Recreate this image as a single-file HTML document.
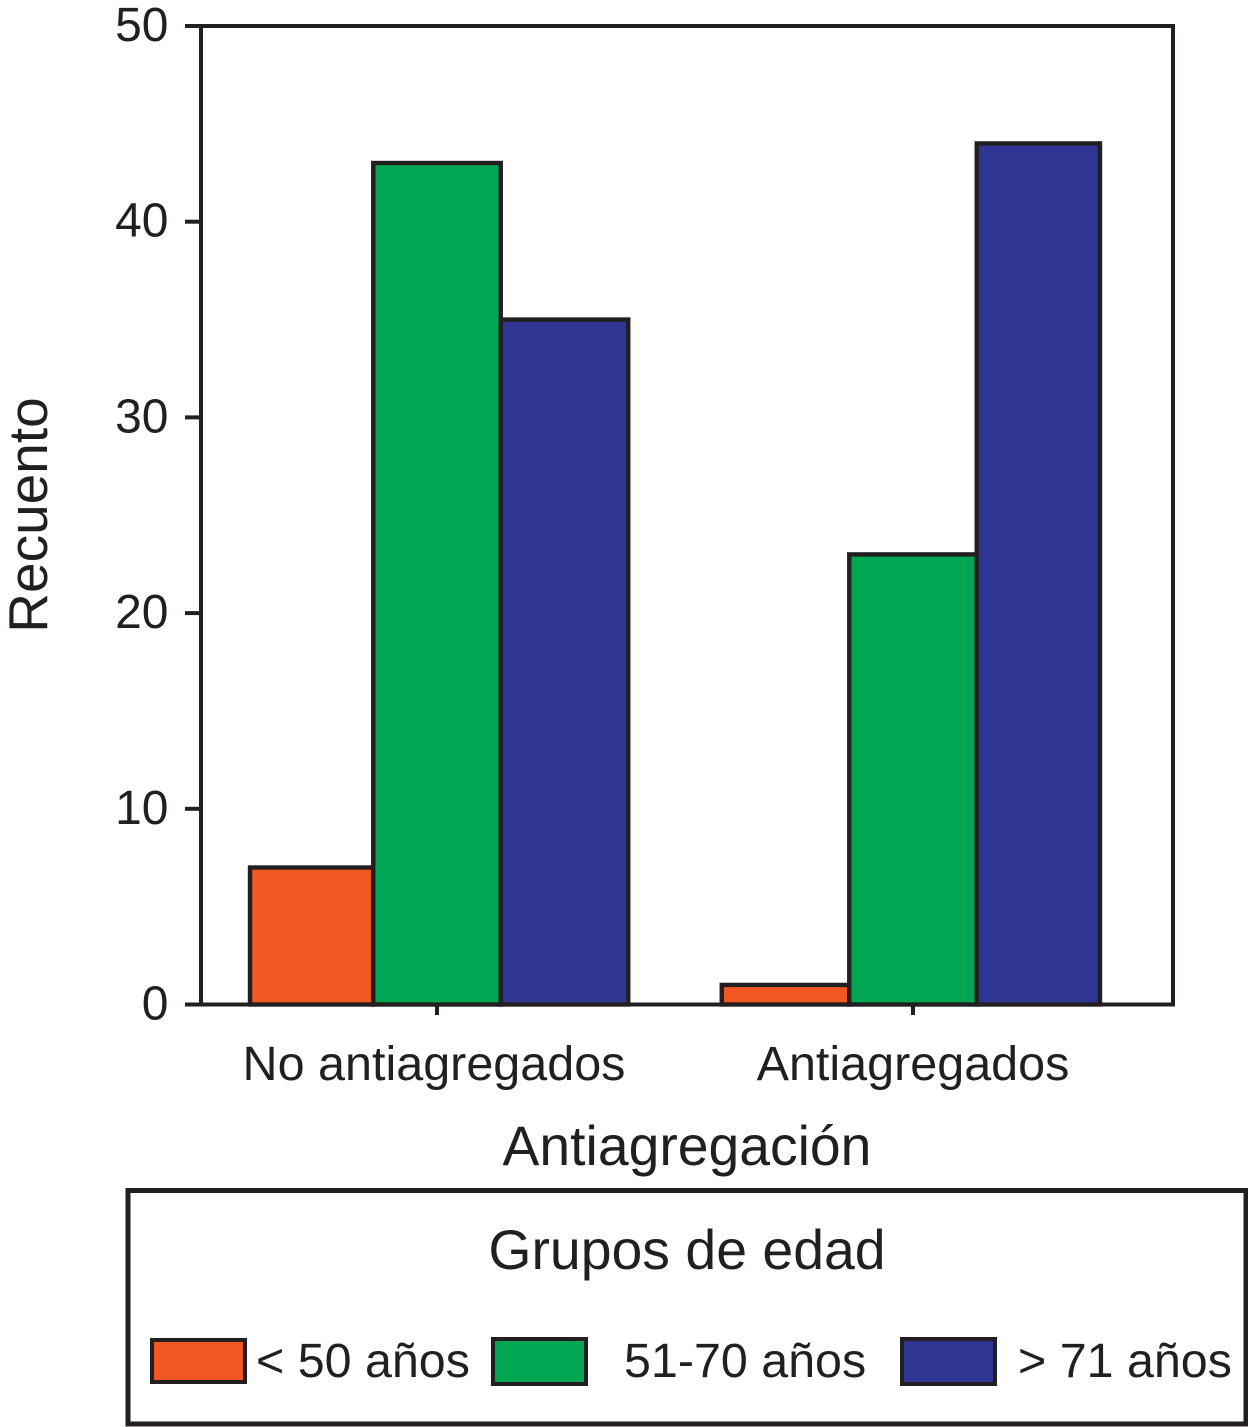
<!DOCTYPE html>
<html lang="es">
<head>
<meta charset="utf-8">
<title>Recuento por antiagregación y grupos de edad</title>
<style>
  html, body { margin: 0; padding: 0; background: #fff; }
  svg { display: block; }
  text { font-family: "Liberation Sans", Arial, sans-serif; fill: #231f20; }
</style>
</head>
<body>
<svg id="chart" xmlns="http://www.w3.org/2000/svg" width="1248" height="1427" viewBox="0 0 1248 1427"></svg>
<script>
const categories = ['No antiagregados', 'Antiagregados'];
const seriesNames = ['< 50 años', '51-70 años', '> 71 años'];
const under50 = [7, 1];
const from51to70 = [43, 23];
const over71 = [35, 44];
const yTicks = [0, 10, 20, 30, 40, 50];
const seriesColors = ['#f15623', '#00a651', '#2e3592'];

const INK = '#231f20';
const SVG_NS = 'http://www.w3.org/2000/svg';
const svg = document.getElementById('chart');
const allSeries = [under50, from51to70, over71];

const plot = { left: 201, right: 1173, top: 26, bottom: 1004.5 };
const yMax = 50;
const barWidth = 127.5;
const barClip = { left: 250, right: 1100 };

function yScale(v) {
  return plot.bottom - (v / yMax) * (plot.bottom - plot.top);
}
function xCenter(i) {
  return 437 + i * 476;
}
function barLeft(cat, s) {
  return Math.max(barClip.left, xCenter(cat) + (s - 1.5) * barWidth);
}
function barRight(cat, s) {
  return Math.min(barClip.right, xCenter(cat) + (s - 0.5) * barWidth);
}
function make(tag, attrs, parent) {
  const el = document.createElementNS(SVG_NS, tag);
  for (const k in attrs) el.setAttribute(k, attrs[k]);
  (parent || svg).appendChild(el);
  return el;
}

/* plot frame */
const frame = make('rect', { x: plot.left, y: plot.top, width: plot.right - plot.left, height: plot.bottom - plot.top, fill: '#fff', stroke: INK, 'stroke-width': 4 });



/* y ticks */
yTicks.forEach(function (t) {
  const y = yScale(t);
  const tick = make('line', { x1: 185, x2: plot.left, y1: y, y2: y, stroke: INK, 'stroke-width': 4 });
  
  
  const label = make('text', { x: 168.5, y: y + 15, 'text-anchor': 'end', 'font-size': 48 });
  
  
  label.textContent = t;
});

/* bars */
categories.forEach(function (c, ci) {
  allSeries.forEach(function (vals, si) {
    const x0 = barLeft(ci, si);
    const x1 = barRight(ci, si);
    const y0 = yScale(vals[ci]);
    const bar = make('rect', { x: x0, y: y0, width: x1 - x0, height: plot.bottom - y0, fill: seriesColors[si], stroke: INK, 'stroke-width': 4.4 });
    
    
  });
});

/* x ticks and labels */
const xLabelCenters = [434, 913];
categories.forEach(function (c, ci) {
  const x = xCenter(ci);
  const tick = make('line', { x1: x, x2: x, y1: plot.bottom, y2: 1015, stroke: INK, 'stroke-width': 4 });
  
  
  const label = make('text', { x: xLabelCenters[ci], y: 1080, 'text-anchor': 'middle', 'font-size': 48.5 });
  
  
  label.textContent = c;
});

/* re-draw the baseline above the bars */
const baseline = make('line', { x1: 185, x2: plot.right + 2, y1: plot.bottom, y2: plot.bottom, stroke: INK, 'stroke-width': 4 });



/* axis titles */
const xTitle = make('text', { x: 687, y: 1165, 'text-anchor': 'middle', 'font-size': 55.3 });


xTitle.textContent = 'Antiagregación';

const yTitle = make('text', { transform: 'translate(47 515) rotate(-90)', 'text-anchor': 'middle', 'font-size': 55 });


yTitle.textContent = 'Recuento';

/* legend */
const legendGroup = make('g', {});



const legendBox = make('rect', { x: 128, y: 1190.5, width: 1118, height: 233.5, fill: '#fff', stroke: INK, 'stroke-width': 5 }, legendGroup);



const legendTitle = make('text', { x: 687, y: 1269, 'text-anchor': 'middle', 'font-size': 55.4 }, legendGroup);


legendTitle.textContent = 'Grupos de edad';

const swatchX = [152, 493, 902];
const swatchY = [1340, 1339, 1339];
const swatchH = [42, 45, 45];
const legendLabelX = [256, 624, 1018];
seriesNames.forEach(function (name, i) {
  const swatch = make('rect', { x: swatchX[i], y: swatchY[i], width: 93, height: swatchH[i], fill: seriesColors[i], stroke: INK, 'stroke-width': 4 }, legendGroup);
  
  
  const label = make('text', { x: legendLabelX[i], y: 1377, 'font-size': 48.4 }, legendGroup);
  
  
  label.textContent = name;
});
</script>
</body>
</html>
